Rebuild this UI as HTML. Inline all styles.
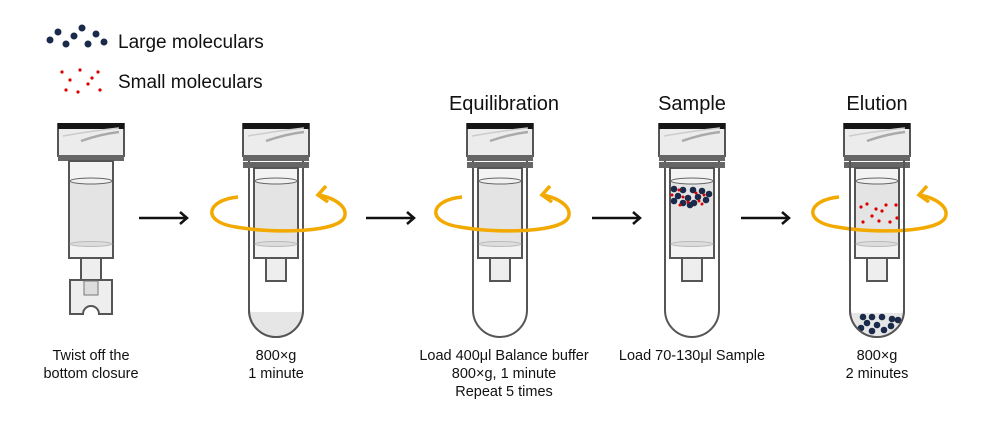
<!DOCTYPE html>
<html><head><meta charset="utf-8"><style>
html,body{margin:0;padding:0;background:#fff}
svg{display:block}
text{font-family:"Liberation Sans",sans-serif;fill:#111}
</style></head><body>
<svg width="992" height="425" viewBox="0 0 992 425" xmlns="http://www.w3.org/2000/svg">
<defs>
<g id="cap">
 <rect x="-33" y="124" width="66" height="32" fill="#ececec" stroke="#555" stroke-width="2"/>
 <rect x="-33" y="123" width="66" height="6" fill="#151515"/>
 <path d="M-10 141 Q10 134 28 132" stroke="#aaa" stroke-width="2.5" fill="none"/>
 <path d="M-28 136 Q0 131 28 128" stroke="#ccc" stroke-width="1.5" fill="none"/>
 <rect x="-33" y="155" width="66" height="6" fill="#666"/>
</g>
<g id="col">
 <rect x="-22" y="168" width="44" height="90" fill="#f3f3f3" stroke="#555" stroke-width="2"/>
 <rect x="-21" y="181" width="42" height="63" fill="#e4e4e4"/>
 <ellipse cx="0" cy="181" rx="21" ry="3" fill="#f0f0f0" stroke="#666" stroke-width="1"/>
 <ellipse cx="0" cy="244" rx="21" ry="2.5" fill="#ddd" stroke="#bbb" stroke-width="1"/>
 <rect x="-10" y="258" width="20" height="23" fill="#eee" stroke="#555" stroke-width="2"/>
</g>
<g id="outer">
 <path d="M-27 160 V310 A27 27 0 0 0 27 310 V160" fill="#fff" stroke="#555" stroke-width="2"/>
</g>
<g id="rings">
 <rect x="-33" y="162" width="66" height="6" fill="#666"/>
</g>
<g id="spin">
 <path d="M-38 197 C-70 200 -75 222 -40 227 C0 234 60 232 68 218 C73 208 60 198 42 195" fill="none" stroke="#f2a900" stroke-width="3.5"/>
 <path d="M50 186 L42 195 L52 202" fill="none" stroke="#f2a900" stroke-width="3.5"/>
</g>
</defs>

<!-- legend -->
<g fill="#1a2a4a">
<circle cx="50" cy="40" r="3.5"/><circle cx="58" cy="32" r="3.5"/><circle cx="66" cy="44" r="3.5"/><circle cx="74" cy="36" r="3.5"/><circle cx="82" cy="28" r="3.5"/><circle cx="88" cy="44" r="3.5"/><circle cx="96" cy="34" r="3.5"/><circle cx="104" cy="42" r="3.5"/>
</g>
<g fill="#d00">
<circle cx="62" cy="72" r="1.6"/><circle cx="70" cy="80" r="1.6"/><circle cx="80" cy="70" r="1.6"/><circle cx="88" cy="84" r="1.6"/><circle cx="98" cy="72" r="1.6"/><circle cx="66" cy="90" r="1.6"/><circle cx="78" cy="92" r="1.6"/><circle cx="100" cy="90" r="1.6"/><circle cx="92" cy="78" r="1.6"/>
</g>
<text x="118" y="48" font-size="19">Large moleculars</text>
<text x="118" y="88" font-size="19">Small moleculars</text>

<!-- tube 1 -->
<g transform="translate(91,0)">
 <use href="#cap"/>
 <rect x="-22" y="161" width="44" height="97" fill="#f3f3f3" stroke="#555" stroke-width="2"/>
 <rect x="-21" y="181" width="42" height="63" fill="#e4e4e4"/>
 <ellipse cx="0" cy="181" rx="21" ry="3" fill="#f0f0f0" stroke="#666" stroke-width="1"/>
 <ellipse cx="0" cy="244" rx="21" ry="2.5" fill="#ddd" stroke="#bbb" stroke-width="1"/>
 <rect x="-10" y="258" width="20" height="24" fill="#eee" stroke="#555" stroke-width="2"/>
 <path d="M-21 280 H21 V314 H8 A8 8 0 0 0 -8 314 H-21 Z" fill="#eee" stroke="#555" stroke-width="2"/>
 <rect x="-7" y="281" width="14" height="14" fill="#ddd" stroke="#777" stroke-width="1"/>
</g>

<!-- tube 2 -->
<g transform="translate(276,0)">
 <use href="#outer"/>
 <path d="M-26 312 H26 A26 25 0 0 1 -26 312 Z" fill="#e6e6e6"/>
 <path d="M-27 160 V310 A27 27 0 0 0 27 310 V160" fill="none" stroke="#555" stroke-width="2"/>
 <use href="#cap"/><use href="#rings"/><use href="#col"/><use href="#spin"/>
</g>

<!-- tube 3 -->
<g transform="translate(500,0)">
 <use href="#outer"/><use href="#cap"/><use href="#rings"/><use href="#col"/><use href="#spin"/>
</g>

<!-- tube 4 -->
<g transform="translate(692,0)">
 <use href="#outer"/><use href="#cap"/><use href="#rings"/><use href="#col"/>
 <g fill="#1a2a4a">
  <circle cx="-18" cy="189" r="3.3"/><circle cx="-9" cy="190" r="3.3"/><circle cx="1" cy="190" r="3.3"/><circle cx="10" cy="191" r="3.3"/><circle cx="17" cy="194" r="3.3"/>
  <circle cx="-14" cy="196" r="3.3"/><circle cx="-4" cy="198" r="3.3"/><circle cx="6" cy="197" r="3.3"/><circle cx="14" cy="200" r="3.3"/>
  <circle cx="-18" cy="201" r="3.3"/><circle cx="-9" cy="203" r="3.3"/><circle cx="2" cy="203" r="3.3"/><circle cx="-2" cy="205" r="3.3"/>
 </g>
 <g fill="#d00">
  <circle cx="-13" cy="190" r="1.5"/><circle cx="-20" cy="195" r="1.5"/><circle cx="-9" cy="197" r="1.5"/><circle cx="4" cy="193" r="1.5"/><circle cx="12" cy="195" r="1.5"/>
  <circle cx="-12" cy="205" r="1.5"/><circle cx="-4" cy="202" r="1.5"/><circle cx="10" cy="204" r="1.5"/><circle cx="7" cy="201" r="1.5"/>
 </g>
</g>

<!-- tube 5 -->
<g transform="translate(877,0)">
 <use href="#outer"/><use href="#cap"/><use href="#rings"/><use href="#col"/><use href="#spin"/>
 <g fill="#d00">
  <circle cx="-16" cy="207" r="1.6"/><circle cx="-10" cy="204" r="1.6"/><circle cx="-1" cy="209" r="1.6"/><circle cx="9" cy="205" r="1.6"/><circle cx="19" cy="205" r="1.6"/>
  <circle cx="-5" cy="216" r="1.6"/><circle cx="5" cy="211" r="1.6"/><circle cx="-14" cy="222" r="1.6"/><circle cx="2" cy="221" r="1.6"/><circle cx="13" cy="222" r="1.6"/><circle cx="20" cy="218" r="1.6"/>
 </g>
 <path d="M-26 313 H26 A26 24 0 0 1 -26 313 Z" fill="#e6e6e6"/>
 <g fill="#1a2a4a">
  <circle cx="-14" cy="317" r="3.3"/><circle cx="-5" cy="317" r="3.3"/><circle cx="5" cy="317" r="3.3"/><circle cx="15" cy="319" r="3.3"/><circle cx="21" cy="320" r="3.3"/>
  <circle cx="-10" cy="323" r="3.3"/><circle cx="0" cy="325" r="3.3"/><circle cx="14" cy="326" r="3.3"/>
  <circle cx="-16" cy="328" r="3.3"/><circle cx="-5" cy="331" r="3.3"/><circle cx="7" cy="330" r="3.3"/>
 </g>
 <path d="M-27 160 V310 A27 27 0 0 0 27 310 V160" fill="none" stroke="#555" stroke-width="2"/>
</g>

<!-- arrows -->
<g stroke="#111" stroke-width="2.5" fill="none">
 <path d="M139 218 H186 M180 212 L187 218 L180 224"/>
 <path d="M366 218 H413 M407 212 L414 218 L407 224"/>
 <path d="M592 218 H639 M633 212 L640 218 L633 224"/>
 <path d="M741 218 H788 M782 212 L789 218 L782 224"/>
</g>

<!-- headers -->
<text x="504" y="110" font-size="20" text-anchor="middle">Equilibration</text>
<text x="692" y="110" font-size="20" text-anchor="middle">Sample</text>
<text x="877" y="110" font-size="20" text-anchor="middle">Elution</text>

<!-- labels -->
<g font-size="14.5" text-anchor="middle">
<text x="91" y="360">Twist off the</text><text x="91" y="378">bottom closure</text>
<text x="276" y="360">800×g</text><text x="276" y="378">1 minute</text>
<text x="504" y="360">Load 400μl Balance buffer</text><text x="504" y="378">800×g, 1 minute</text><text x="504" y="396">Repeat 5 times</text>
<text x="692" y="360">Load 70-130μl Sample</text>
<text x="877" y="360">800×g</text><text x="877" y="378">2 minutes</text>
</g>
</svg>
</body></html>
